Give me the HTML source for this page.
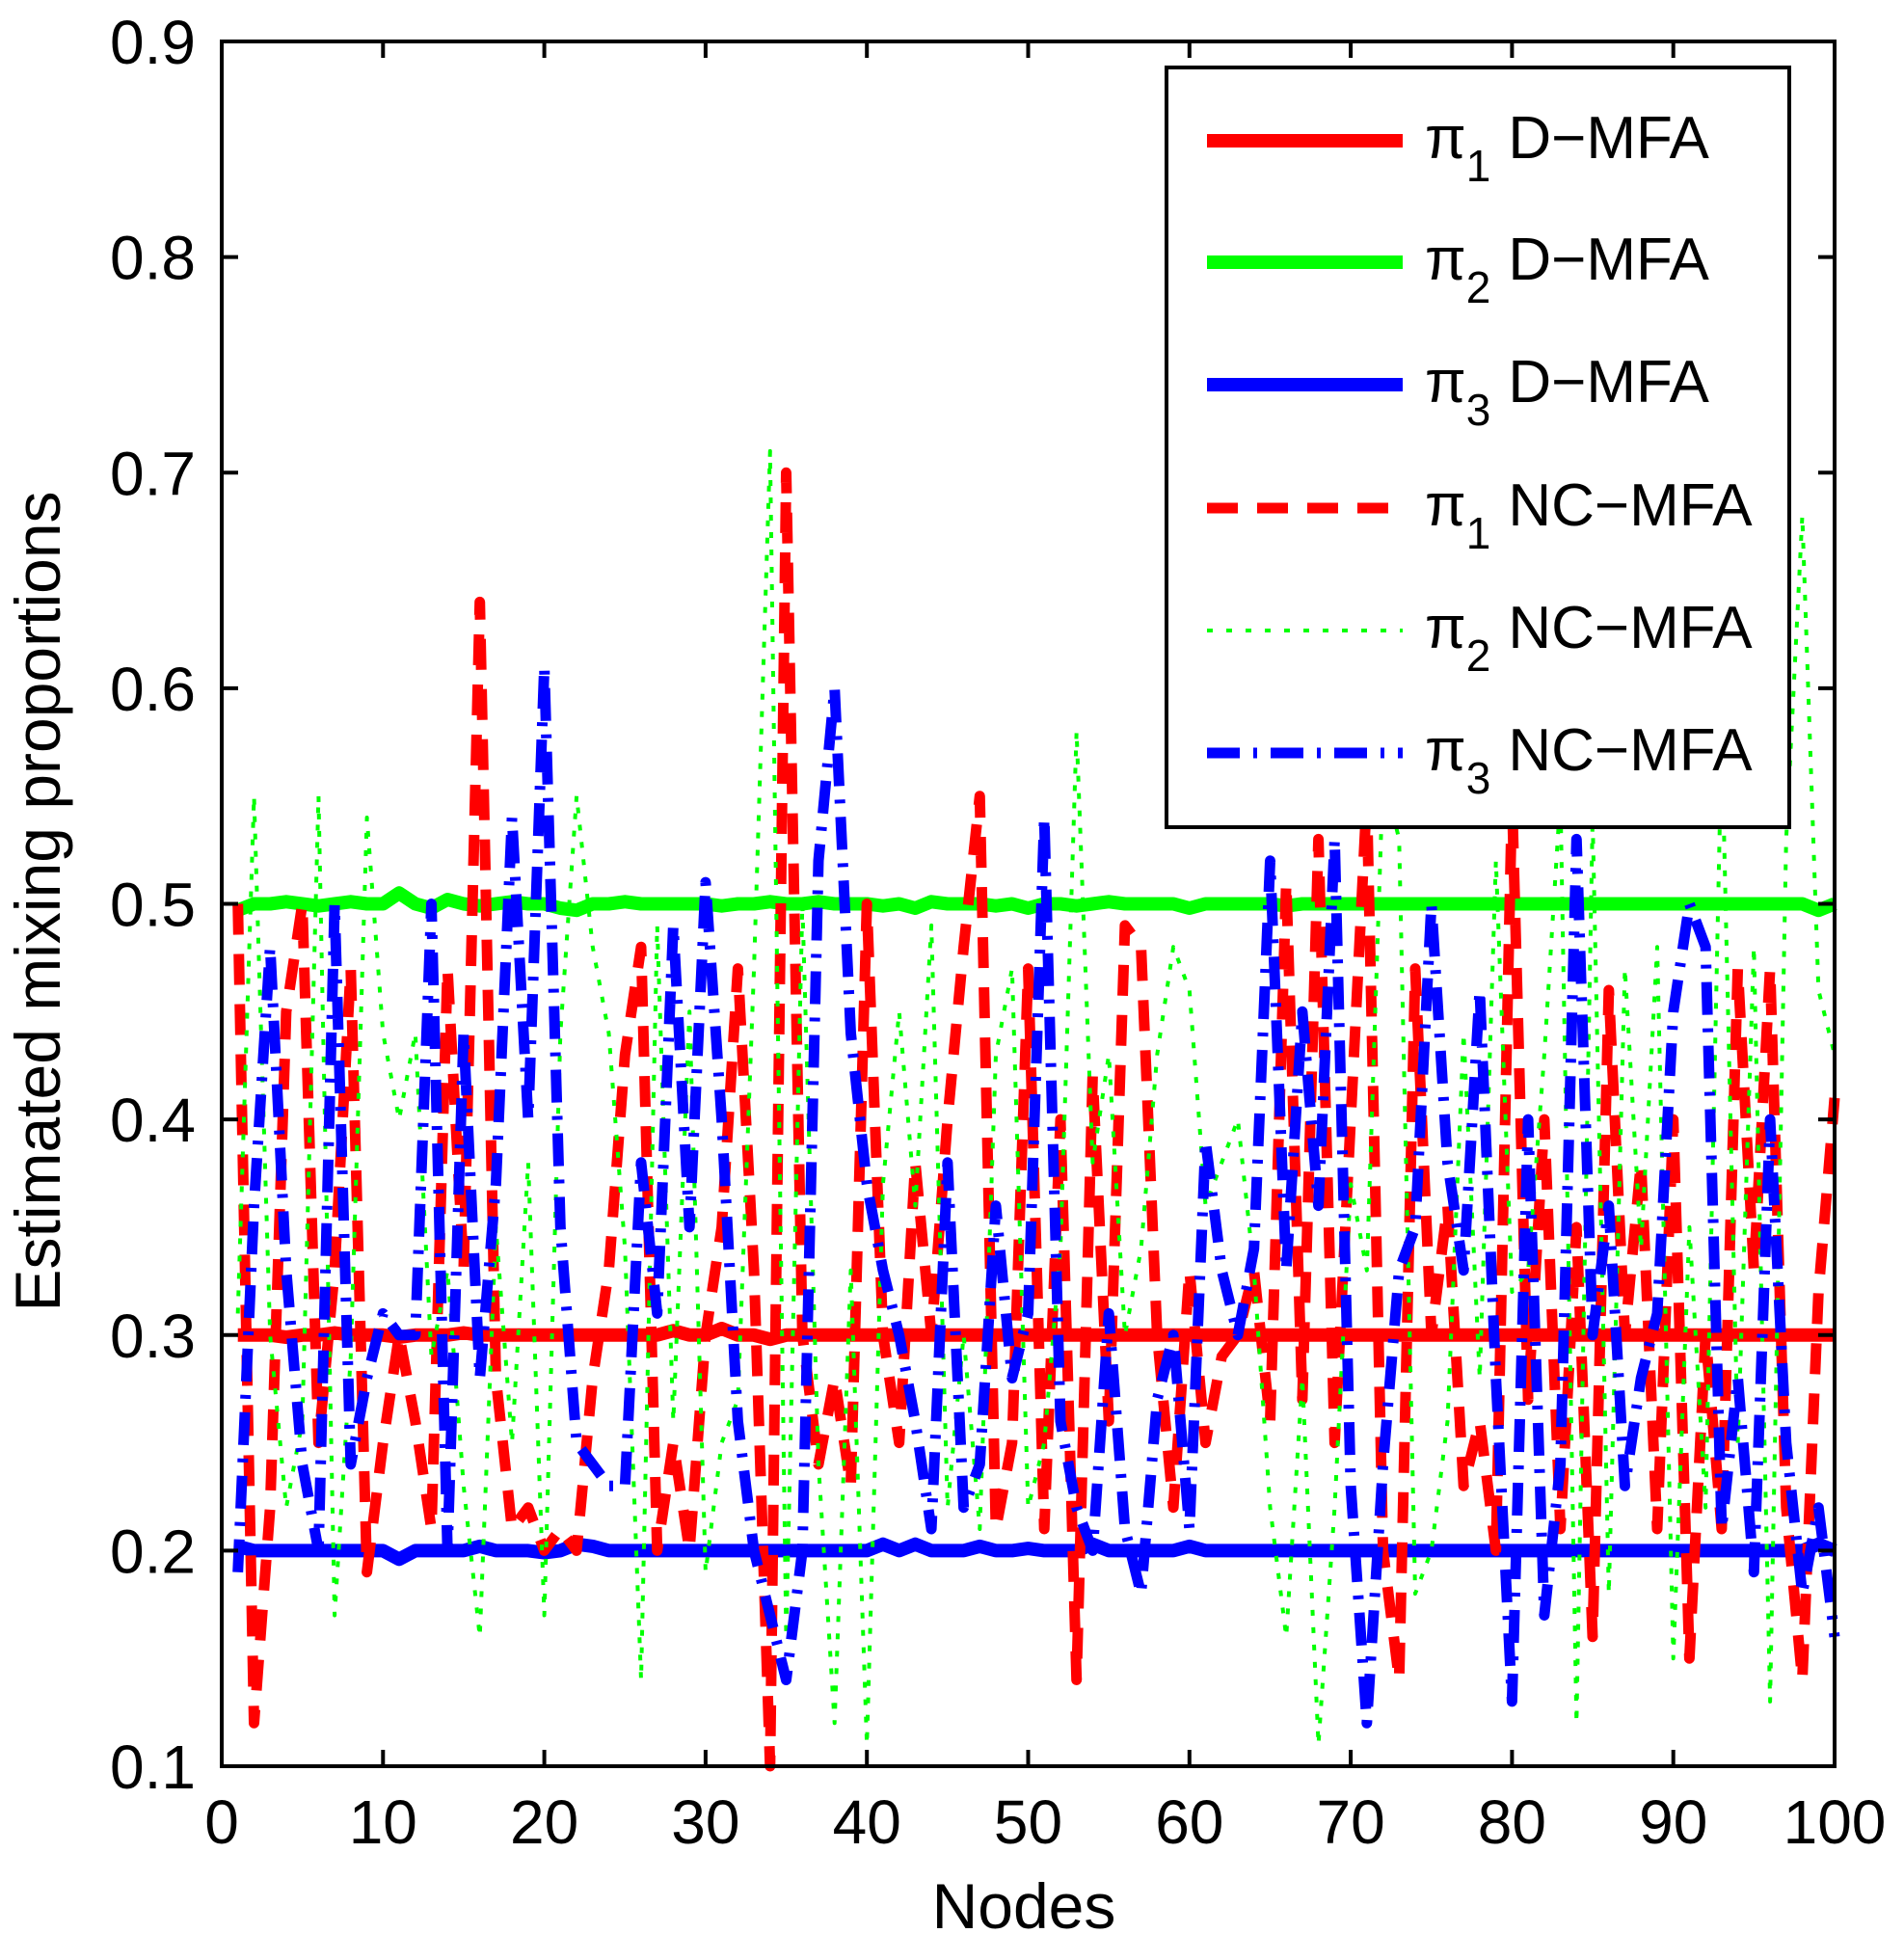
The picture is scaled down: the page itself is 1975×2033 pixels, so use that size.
<!DOCTYPE html>
<html><head><meta charset="utf-8">
<style>
html,body{margin:0;padding:0;background:#fff;}
svg{display:block;font-family:"Liberation Sans",sans-serif;}
</style></head>
<body>
<svg id="chart" width="1975" height="2033" viewBox="0 0 1975 2033" xmlns="http://www.w3.org/2000/svg">
<rect width="1975" height="2033" fill="#fff"/>
<g id="marks"></g>
<g id="axes"></g>
<g id="legend"></g>
</svg>
<script>
const nodes = Array.from({length:100},(_,i)=>i+1);
const xTicks = [0,10,20,30,40,50,60,70,80,90,100];
const yTicks = [0.1,0.2,0.3,0.4,0.5,0.6,0.7,0.8,0.9];
const yTickLabels = ["0.1","0.2","0.3","0.4","0.5","0.6","0.7","0.8","0.9"];
const pi1D = [0.3,0.3,0.3,0.299,0.3,0.3,0.301,0.3,0.3,0.3,0.299,0.3,0.3,0.3,0.301,0.3,0.3,0.3,0.3,0.3,0.3,0.3,0.3,0.3,0.3,0.3,0.3,0.302,0.3,0.3,0.303,0.3,0.3,0.298,0.3,0.3,0.3,0.3,0.3,0.3,0.3,0.3,0.3,0.3,0.3,0.3,0.3,0.3,0.3,0.3,0.3,0.3,0.3,0.3,0.3,0.3,0.3,0.3,0.3,0.3,0.3,0.3,0.3,0.3,0.3,0.3,0.3,0.3,0.3,0.3,0.3,0.3,0.3,0.3,0.3,0.3,0.3,0.3,0.3,0.3,0.3,0.3,0.3,0.3,0.3,0.3,0.3,0.3,0.3,0.3,0.3,0.3,0.3,0.3,0.3,0.3,0.3,0.3,0.3,0.3];
const pi2D = [0.497,0.5,0.5,0.501,0.5,0.499,0.5,0.501,0.5,0.5,0.505,0.5,0.498,0.502,0.5,0.499,0.5,0.501,0.5,0.5,0.498,0.497,0.5,0.5,0.501,0.5,0.5,0.5,0.5,0.5,0.499,0.5,0.5,0.501,0.5,0.5,0.501,0.5,0.5,0.5,0.499,0.5,0.498,0.501,0.5,0.5,0.5,0.499,0.5,0.498,0.5,0.5,0.499,0.5,0.501,0.5,0.5,0.5,0.5,0.498,0.5,0.5,0.5,0.5,0.5,0.499,0.5,0.5,0.5,0.5,0.5,0.5,0.5,0.5,0.5,0.5,0.5,0.5,0.5,0.5,0.5,0.5,0.5,0.5,0.5,0.5,0.5,0.5,0.5,0.5,0.5,0.5,0.5,0.5,0.5,0.5,0.5,0.5,0.497,0.5];
const pi3D = [0.202,0.2,0.2,0.2,0.2,0.2,0.2,0.2,0.2,0.2,0.196,0.2,0.2,0.2,0.2,0.202,0.2,0.2,0.2,0.199,0.2,0.203,0.202,0.2,0.2,0.2,0.2,0.2,0.2,0.2,0.2,0.2,0.2,0.2,0.2,0.2,0.2,0.2,0.2,0.2,0.203,0.2,0.203,0.2,0.2,0.2,0.202,0.2,0.2,0.201,0.2,0.2,0.2,0.203,0.2,0.2,0.2,0.2,0.2,0.202,0.2,0.2,0.2,0.2,0.2,0.2,0.2,0.2,0.2,0.2,0.2,0.2,0.2,0.2,0.2,0.2,0.2,0.2,0.2,0.2,0.2,0.2,0.2,0.2,0.2,0.2,0.2,0.2,0.2,0.2,0.2,0.2,0.2,0.2,0.2,0.2,0.2,0.2,0.203,0.2];
const pi1NC = [0.5,0.12,0.22,0.45,0.5,0.25,0.33,0.47,0.19,0.25,0.3,0.26,0.21,0.47,0.33,0.64,0.28,0.21,0.22,0.2,0.21,0.2,0.28,0.33,0.43,0.48,0.2,0.25,0.2,0.3,0.35,0.47,0.33,0.1,0.7,0.3,0.24,0.28,0.23,0.5,0.3,0.25,0.38,0.3,0.4,0.48,0.55,0.21,0.25,0.47,0.21,0.4,0.14,0.42,0.26,0.49,0.48,0.3,0.22,0.33,0.25,0.29,0.3,0.33,0.26,0.51,0.27,0.53,0.25,0.4,0.55,0.2,0.14,0.47,0.3,0.36,0.23,0.26,0.2,0.55,0.27,0.4,0.21,0.35,0.16,0.46,0.3,0.38,0.21,0.4,0.15,0.3,0.21,0.47,0.33,0.47,0.22,0.14,0.32,0.41];
const pi2NC = [0.31,0.55,0.3,0.22,0.26,0.55,0.17,0.29,0.54,0.44,0.4,0.44,0.29,0.33,0.23,0.16,0.35,0.25,0.38,0.17,0.44,0.55,0.48,0.44,0.34,0.14,0.49,0.26,0.45,0.19,0.25,0.27,0.47,0.71,0.16,0.5,0.24,0.12,0.33,0.11,0.37,0.45,0.36,0.49,0.22,0.3,0.21,0.43,0.47,0.22,0.25,0.34,0.58,0.38,0.43,0.3,0.34,0.43,0.48,0.46,0.36,0.38,0.4,0.33,0.22,0.16,0.28,0.11,0.22,0.37,0.33,0.56,0.53,0.18,0.2,0.26,0.44,0.28,0.52,0.32,0.33,0.43,0.55,0.12,0.54,0.18,0.47,0.34,0.48,0.15,0.35,0.22,0.58,0.25,0.48,0.13,0.53,0.68,0.46,0.43];
const pi3NC = [0.19,0.36,0.48,0.33,0.24,0.2,0.5,0.24,0.28,0.31,0.3,0.3,0.5,0.2,0.44,0.28,0.37,0.54,0.4,0.61,0.35,0.25,0.24,0.23,0.23,0.38,0.31,0.49,0.35,0.51,0.4,0.26,0.2,0.17,0.14,0.2,0.52,0.6,0.44,0.37,0.33,0.3,0.26,0.21,0.38,0.22,0.24,0.36,0.28,0.31,0.54,0.26,0.22,0.2,0.31,0.21,0.18,0.27,0.3,0.21,0.39,0.33,0.3,0.34,0.52,0.33,0.45,0.36,0.53,0.23,0.12,0.24,0.33,0.35,0.5,0.38,0.33,0.46,0.28,0.13,0.4,0.17,0.24,0.53,0.3,0.36,0.23,0.28,0.31,0.45,0.5,0.48,0.21,0.28,0.19,0.4,0.25,0.18,0.22,0.16];

const L=230,R=1903,T=43,B=1832;
const xs=v=>L+(v-0)/(100-0)*(R-L);
const ys=v=>B-(v-0.1)/(0.9-0.1)*(B-T);
const NS="http://www.w3.org/2000/svg";
function mk(tag,attrs,parent){const e=document.createElementNS(NS,tag);for(const k in attrs)e.setAttribute(k,attrs[k]);parent.appendChild(e);return e;}
const marks=document.getElementById('marks');
function line(arr,color,w,dash,name){
  const d=arr.map((v,i)=>(i?'L':'M')+xs(nodes[i]).toFixed(1)+','+ys(v).toFixed(1)).join('');
  const p=mk('path',{d:d,fill:'none',stroke:color,'stroke-width':w,'stroke-dasharray':dash||'none','stroke-linejoin':'round'},marks);
  
  
}
line(pi1D,'#ff0000',14,null,'pi1-dmfa-line');
line(pi2D,'#00ff00',14,null,'pi2-dmfa-line');
line(pi3D,'#0000ff',14,null,'pi3-dmfa-line');
line(pi1NC,'#ff0000',11,'32 20','pi1-ncmfa-line');
line(pi2NC,'#00ff00',4,'6 12','pi2-ncmfa-line');
line(pi3NC,'#0000ff',11,'34 14 4 14','pi3-ncmfa-line');

const axes=document.getElementById('axes');
const frame=mk('rect',{x:L,y:T,width:R-L,height:B-T,fill:'none',stroke:'#000','stroke-width':4},axes);


xTicks.forEach(t=>{
  const x=xs(t);
  mk('line',{x1:x,y1:B,x2:x,y2:B-17,stroke:'#000','stroke-width':4},axes);
  mk('line',{x1:x,y1:T,x2:x,y2:T+17,stroke:'#000','stroke-width':4},axes);
  const tx=mk('text',{x:x,y:1912,'font-size':64,'text-anchor':'middle'},axes);
  tx.textContent=t;
  
  
});
yTicks.forEach((t,i)=>{
  const y=ys(t);
  mk('line',{x1:L,y1:y,x2:L+17,y2:y,stroke:'#000','stroke-width':4},axes);
  mk('line',{x1:R,y1:y,x2:R-17,y2:y,stroke:'#000','stroke-width':4},axes);
  const tx=mk('text',{x:203,y:y+23,'font-size':64,'text-anchor':'end'},axes);
  tx.textContent=yTickLabels[i];
  
  
});
const xl=mk('text',{x:1062,y:2000,'font-size':66,'text-anchor':'middle'},axes);
xl.textContent='Nodes';


const yl=mk('text',{x:0,y:0,'font-size':66,'text-anchor':'middle',transform:'translate(62,935) rotate(-90)'},axes);
yl.textContent='Estimated mixing proportions';



const lg=document.getElementById('legend');
const box=mk('rect',{x:1210,y:70,width:646,height:788,fill:'#fff',stroke:'#000','stroke-width':4},lg);


const entries=[
 ['#ff0000',14,null,'1','D\u2212MFA'],
 ['#00ff00',14,null,'2','D\u2212MFA'],
 ['#0000ff',14,null,'3','D\u2212MFA'],
 ['#ff0000',11,'32 20','1','NC\u2212MFA'],
 ['#00ff00',4,'6 14','2','NC\u2212MFA'],
 ['#0000ff',11,'34 14 4 14','3','NC\u2212MFA']];
const ey=[146,272,399,527,654,781];
entries.forEach((e,i)=>{
  const g=mk('g',{},lg);
  
  
  mk('line',{x1:1252,y1:ey[i],x2:1455,y2:ey[i],stroke:e[0],'stroke-width':e[1],'stroke-dasharray':e[2]||'none'},g);
  const t=mk('text',{x:1478,y:ey[i]+18,'font-size':62},g);
  t.innerHTML='\u03c0<tspan font-size="46" dy="24">'+e[3]+'</tspan><tspan dy="-24" dx="18">'+e[4]+'</tspan>';
});
</script>
</body></html>
